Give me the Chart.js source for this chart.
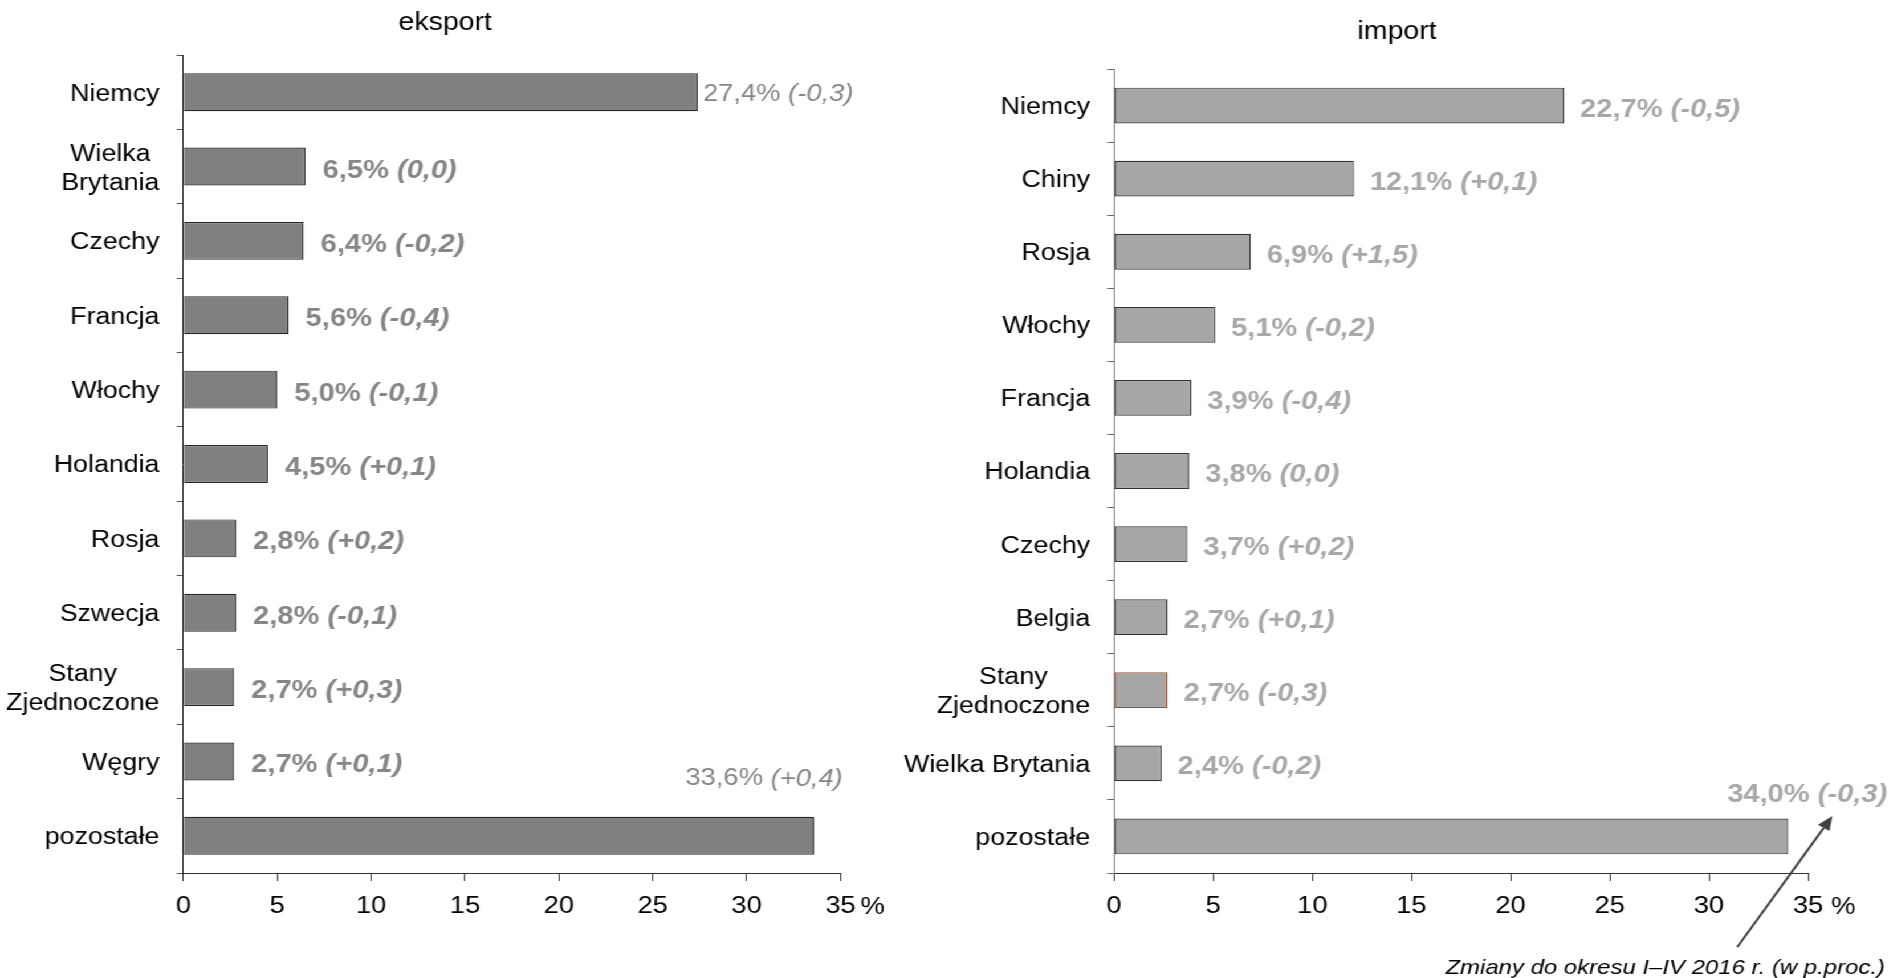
<!DOCTYPE html>
<html>
<head>
<meta charset="utf-8">
<script src="https://cdn.jsdelivr.net/npm/chart.js@4.4.1/dist/chart.umd.min.js"></script>
<style>
  html, body { margin: 0; padding: 0; background: #fff; overflow: hidden; }
  /* the reference is a little wide, so the whole page is stretched sideways */
  #wrap { position: relative; width: 1659px; height: 978px; transform: scaleX(1.14); transform-origin: 0 0; }
  #eksport { position: absolute; left: 0; top: 0; }
  #import { position: absolute; left: 792px; top: 0; }
</style>
</head>
<body>
<div id="wrap">
  <canvas id="eksport" width="781" height="978"></canvas>
  <canvas id="import" width="867" height="978"></canvas>
</div>
<script>
// data
const exportCountries = ['Niemcy', ['Wielka', 'Brytania'], 'Czechy', 'Francja', 'Włochy', 'Holandia', 'Rosja', 'Szwecja', ['Stany', 'Zjednoczone'], 'Węgry', 'pozostałe'];
const exportShare = [27.4, 6.5, 6.4, 5.6, 5.0, 4.5, 2.8, 2.8, 2.7, 2.7, 33.6];
const exportChange = [-0.3, 0.0, -0.2, -0.4, -0.1, 0.1, 0.2, -0.1, 0.3, 0.1, 0.4];

const importCountries = ['Niemcy', 'Chiny', 'Rosja', 'Włochy', 'Francja', 'Holandia', 'Czechy', 'Belgia', ['Stany', 'Zjednoczone'], 'Wielka Brytania', 'pozostałe'];
const importShare = [22.7, 12.1, 6.9, 5.1, 3.9, 3.8, 3.7, 2.7, 2.7, 2.4, 34.0];
const importChange = [-0.5, 0.1, 1.5, -0.2, -0.4, 0.0, 0.2, 0.1, -0.3, -0.2, -0.3];

const xTicks = [0, 5, 10, 15, 20, 25, 30, 35];
const noteText = 'Zmiany do okresu I–IV 2016 r. (w p.proc.)';

const FONT = '"Liberation Sans", Arial, sans-serif';
Chart.defaults.font.family = FONT;

const fmt = v => v.toFixed(1).replace('.', ',');
const fmtChange = v => (v > 0 ? '+' : '') + fmt(v);

// title centred over the canvas
const titleText = {
  id: 'titleText',
  afterDraw(chart, args, opts) {
    const ctx = chart.ctx;
    ctx.save();
    ctx.font = '25px ' + FONT;
    ctx.fillStyle = '#000';
    ctx.textAlign = 'center';
    ctx.textBaseline = 'middle';
    ctx.fillText(opts.text, chart.width / 2, opts.y);
    ctx.restore();
  }
};

// category names, multi-line ones centred on each other like in Excel
const catLabels = {
  id: 'catLabels',
  afterDraw(chart) {
    const {ctx, chartArea, scales: {y}} = chart;
    ctx.save();
    ctx.font = '23.5px ' + FONT;
    ctx.fillStyle = '#000';
    ctx.textAlign = 'center';
    ctx.textBaseline = 'middle';
    const right = chartArea.left - 21;
    chart.data.labels.forEach((lab, i) => {
      const lines = Array.isArray(lab) ? lab : [lab];
      const w = Math.max(...lines.map(l => ctx.measureText(l).width));
      const cx = right - w / 2;
      const yc = y.getPixelForValue(i);
      lines.forEach((l, k) => ctx.fillText(l, cx, yc + (k - (lines.length - 1) / 2) * 29 + 2));
    });
    // "%" after the last x tick
    const x = chart.scales.x;
    ctx.font = '24px ' + FONT;
    const last = xTicks[xTicks.length - 1];
    const hw = ctx.measureText(String(last)).width / 2;
    ctx.textAlign = 'left';
    ctx.textBaseline = 'alphabetic';
    ctx.fillText('%', x.getPixelForValue(last) + hw + chart.options.plugins.catLabels.pctGap, chartArea.bottom + 41);
    ctx.restore();
  }
};

// value + change labels
const valueLabels = {
  id: 'valueLabels',
  afterDatasetsDraw(chart, args, opts) {
    const ctx = chart.ctx;
    const meta = chart.getDatasetMeta(0);
    const values = chart.data.datasets[0].data;
    const n = meta.data.length;
    ctx.save();
    ctx.fillStyle = opts.color;
    ctx.textAlign = 'left';
    ctx.textBaseline = 'middle';
    meta.data.forEach((bar, i) => {
      const plain = opts.plain.includes(i);
      const size = plain ? 24 : 25.5;
      const weight = plain ? '' : 'bold ';
      const a = fmt(values[i]) + '% ';
      const b = '(' + fmtChange(opts.changes[i]) + ')';
      ctx.font = weight + size + 'px ' + FONT;
      const wa = ctx.measureText(a).width;
      ctx.font = 'italic ' + weight + size + 'px ' + FONT;
      const wb = ctx.measureText(b).width;
      let x, yy;
      if (i === n - 1) {
        x = bar.x + opts.last.dx - (wa + wb) / 2;
        yy = bar.y - bar.height / 2 + opts.last.dy;
      } else {
        x = bar.x + (plain ? 4.5 : opts.gap);
        yy = bar.y + (plain ? 2 : 4);
      }
      ctx.font = weight + size + 'px ' + FONT;
      ctx.fillText(a, x, yy);
      ctx.font = 'italic ' + weight + size + 'px ' + FONT;
      ctx.fillText(b, x + wa, yy);
    });
    ctx.restore();
  }
};

// note with an arrow pointing at the "pozostałe" label
const noteArrow = {
  id: 'noteArrow',
  afterDraw(chart, args, opts) {
    if (!opts.enabled) return;
    const ctx = chart.ctx;
    const meta = chart.getDatasetMeta(0);
    const bar = meta.data[meta.data.length - 1];
    const lab = chart.options.plugins.valueLabels.last;
    const tipX = bar.x + lab.dx + 22;
    const tipY = bar.y - bar.height / 2 + lab.dy + 21;
    const tailX = 732, tailY = 947;
    ctx.save();
    ctx.strokeStyle = '#404040';
    ctx.fillStyle = '#404040';
    ctx.lineWidth = 2;
    const ang = Math.atan2(tipY - tailY, tipX - tailX);
    const hl = 14, hw = 6;
    const bx = tipX - hl * Math.cos(ang), by = tipY - hl * Math.sin(ang);
    ctx.beginPath();
    ctx.moveTo(tailX, tailY);
    ctx.lineTo(bx, by);
    ctx.stroke();
    ctx.beginPath();
    ctx.moveTo(tipX, tipY);
    ctx.lineTo(bx + hw * Math.sin(ang), by - hw * Math.cos(ang));
    ctx.lineTo(bx - hw * Math.sin(ang), by + hw * Math.cos(ang));
    ctx.closePath();
    ctx.fill();
    ctx.font = 'italic 21px ' + FONT;
    ctx.fillStyle = '#000';
    ctx.textAlign = 'right';
    ctx.textBaseline = 'middle';
    ctx.fillText(noteText, 861.5, 968);
    ctx.restore();
  }
};

function makeChart(id, cfg) {
  return new Chart(document.getElementById(id), {
    type: 'bar',
    data: {
      labels: cfg.labels,
      datasets: [{
        data: cfg.values,
        backgroundColor: cfg.fill,
        borderColor: cfg.border,
        borderWidth: 1.2,
        borderSkipped: false,
        barPercentage: cfg.barPct,
        categoryPercentage: 1
      }]
    },
    options: {
      indexAxis: 'y',
      responsive: false,
      animation: false,
      layout: { padding: { left: 0, top: cfg.top, right: cfg.padRight, bottom: 0 } },
      scales: {
        x: {
          type: 'linear',
          min: 0,
          max: 35,
          afterBuildTicks: s => { s.ticks = xTicks.map(v => ({ value: v })); },
          afterFit: s => { s.height = 105; },
          grid: { drawOnChartArea: false, drawTicks: true, tickLength: 8, color: '#333' },
          border: { display: true, color: '#333', width: 1 },
          ticks: { color: '#000', font: { size: 24 }, padding: 11, maxRotation: 0 }
        },
        y: {
          afterFit: s => { s.width = cfg.axisLeft; },
          grid: { drawOnChartArea: false, drawTicks: true, tickLength: 6, offset: true, color: cfg.tickColor },
          border: { display: true, color: cfg.axisColor, width: 1 },
          ticks: { display: false }
        }
      },
      plugins: {
        legend: { display: false },
        tooltip: { enabled: false },
        titleText: { text: cfg.title, y: cfg.titleY },
        catLabels: { pctGap: cfg.pctGap },
        valueLabels: { changes: cfg.changes, plain: cfg.plain, color: cfg.labelColor, gap: cfg.gap, last: cfg.last },
        noteArrow: { enabled: cfg.note }
      }
    },
    plugins: [titleText, catLabels, valueLabels, noteArrow]
  });
}

// eksport
makeChart('eksport', {
  labels: exportCountries,
  values: exportShare,
  changes: exportChange,
  title: 'eksport',
  titleY: 23,
  top: 55,
  axisLeft: 160.9,
  padRight: 43.7,
  barPct: 0.51,
  fill: '#808080',
  border: '#262626',
  axisColor: '#1a1a1a',
  tickColor: '#555',
  labelColor: '#868686',
  plain: [0, 10],
  gap: 15,
  last: { dx: -44, dy: -38 },
  pctGap: 4,
  note: false
});

// import
makeChart('import', {
  labels: importCountries,
  values: importShare,
  changes: importChange,
  title: 'import',
  titleY: 32,
  top: 69,
  axisLeft: 185.2,
  padRight: 73,
  barPct: 0.49,
  fill: '#a6a6a6',
  border: c => (c.dataIndex === 8 ? '#a0522d' : '#333'),
  axisColor: '#808080',
  tickColor: '#666',
  labelColor: '#a8a8a8',
  plain: [],
  gap: 14,
  last: { dx: 16.7, dy: -23.5 },
  pctGap: 7,
  note: true
});
</script>
</body>
</html>
